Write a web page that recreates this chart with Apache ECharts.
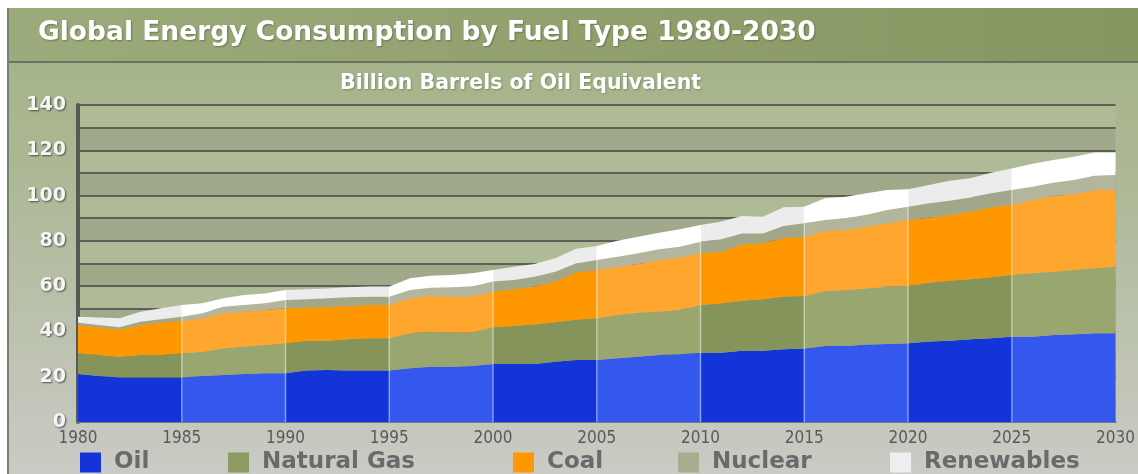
<!DOCTYPE html>
<html><head><meta charset="utf-8">
<script src="https://cdn.jsdelivr.net/npm/echarts@6/dist/echarts.min.js"></script>
<style>html,body{margin:0;padding:0;background:#fff}#c{width:1138px;height:474px}</style>
</head><body><div id="c"></div>
<script>
const years = ['1980','1981','1982','1983','1984','1985','1986','1987','1988','1989',
  '1990','1991','1992','1993','1994','1995','1996','1997','1998','1999',
  '2000','2001','2002','2003','2004','2005','2006','2007','2008','2009',
  '2010','2011','2012','2013','2014','2015','2016','2017','2018','2019',
  '2020','2021','2022','2023','2024','2025','2026','2027','2028','2029','2030'];
const oil = [21.2,20.3,19.7,19.7,19.7,19.7,20.3,20.8,21.2,21.5,
  21.5,22.7,23.0,22.7,22.7,22.7,23.7,24.4,24.4,24.7,
  25.6,25.6,25.6,26.6,27.4,27.4,28.1,28.8,29.6,29.9,
  30.6,30.6,31.5,31.5,32.1,32.5,33.6,33.6,34.2,34.5,
  34.8,35.5,35.9,36.5,37.0,37.7,37.7,38.4,38.7,39.2,39.2];
const naturalGas = [9.1,9.3,9.1,9.9,9.9,10.6,10.7,11.7,12.1,12.5,
  13.3,13.2,12.9,13.8,14.3,14.3,15.5,15.5,15.1,14.8,
  16.2,16.8,17.5,17.4,17.8,18.4,19.2,19.5,19.1,19.6,
  21.1,21.8,22.1,22.7,23.3,23.1,24.3,24.7,24.8,25.3,
  25.3,26.0,26.5,26.5,26.9,27.2,28.0,28.0,28.4,28.7,29.4];
const coal = [12.5,12.2,12.1,13.2,14.3,14.3,14.8,15.5,15.4,15.5,
  15.4,14.7,15.0,14.7,14.7,14.7,15.4,15.7,15.9,15.9,
  15.8,16.2,16.7,18.0,20.8,21.3,21.3,21.5,22.9,23.1,
  22.8,22.8,24.9,24.7,25.7,26.2,26.6,26.5,27.3,28.0,
  29.1,28.7,29.0,29.9,30.9,30.9,32.3,33.4,33.6,34.6,33.9];
const nuclear = [1.0,1.0,0.9,1.5,1.5,1.9,2.2,2.9,3.0,2.9,
  3.7,3.6,3.7,3.9,3.6,3.6,3.7,3.7,4.1,4.4,
  4.4,4.1,4.4,4.4,4.0,4.5,4.4,4.7,4.7,4.8,
  5.1,5.5,4.8,4.4,5.5,6.0,4.7,5.2,5.2,5.8,
  5.9,6.4,6.3,6.3,6.2,6.7,5.9,5.9,6.2,6.2,6.6];
const renewables = [2.7,3.3,4.0,4.4,4.8,5.2,4.4,3.7,4.4,4.4,
  4.4,4.4,4.4,4.4,4.5,4.5,5.2,5.3,5.4,5.9,
  5.1,5.9,5.6,5.9,6.5,6.1,7.1,7.3,7.3,7.7,
  7.4,7.8,7.7,7.4,8.2,7.3,9.6,9.5,9.5,8.9,
  7.7,8.1,8.9,8.4,9.1,9.5,10.1,10.0,10.3,10.3,9.9];
const seriesNames = ['Oil','Natural Gas','Coal','Nuclear','Renewables'];
const yTicks = [0,20,40,60,80,100,120,140];
const titleText = 'Global Energy Consumption by Fuel Type 1980-2030';
const subtitleText = 'Billion Barrels of Oil Equivalent';

const allData = [oil, naturalGas, coal, nuclear, renewables];
const darkCols = ['#1234d8','#84945a','#ff9800','#a2a789','#ececec'];
const lightCols = ['#3458ee','#99a670','#ffa62f','#b3b69d','#ffffff'];
const legendCols = ['#1234d8','#8c9b62','#ff9800','#a9ad8e','#eeeeee'];
const legendLeft = [75, 223, 508, 673, 885];

const chart = echarts.init(document.getElementById('c'));

const lineSeries = seriesNames.map((n, i) => ({
  name: n, type: 'line', stack: 'total', data: allData[i],
  symbol: 'none', color: legendCols[i],
  lineStyle: {width: 0, opacity: 0},
  areaStyle: {opacity: 1},
  emphasis: {disabled: true}, z: 2
}));
const totals = years.map((y, k) => allData.reduce((s, a) => s + a[k], 0));
const sepData = totals.map((t, k) => (k % 5 === 0 && k > 0 && k < years.length - 1) ? t : '-');

const visualMaps = seriesNames.map((n, i) => {
  const pieces = [];
  for (let k = 0; k < 10; k++) {
    const p = {gte: k * 5, color: (k % 2 === 0) ? darkCols[i] : lightCols[i]};
    if (k === 9) p.lte = 50; else p.lt = k * 5 + 5;
    pieces.push(p);
  }
  return {type: 'piecewise', show: false, seriesIndex: i, dimension: 0, pieces};
});

const legends = seriesNames.map((n, i) => ({
  data: [n], left: legendLeft[i], top: 446, icon: 'rect',
  itemWidth: 21, itemHeight: 20, itemGap: 10, selectedMode: false,
  textStyle: {color: '#6a6a6a', fontSize: 23, fontWeight: 'bold', fontFamily: 'DejaVu Sans', padding: [0,0,0,8]}
}));

chart.setOption({
  animation: false,
  backgroundColor: '#ffffff',
  graphic: [
    {type: 'rect', z: -10, shape: {x: 7, y: 8, width: 1131, height: 466},
     style: {fill: new echarts.graphic.LinearGradient(0, 0, 0, 1, [
       {offset: 0, color: '#a2b185'}, {offset: 0.35, color: '#acb894'},
       {offset: 0.7, color: '#bcc2af'}, {offset: 1, color: '#cacbc5'}])}},
    {type: 'rect', z: -9, shape: {x: 7, y: 8, width: 1131, height: 54},
     style: {fill: new echarts.graphic.LinearGradient(0, 0, 1, 0, [
       {offset: 0, color: '#9cab7b'}, {offset: 1, color: '#869660'}])}},
    {type: 'line', z: -8, shape: {x1: 7, y1: 62, x2: 1138, y2: 62}, style: {stroke: '#6b7164', lineWidth: 2}},
    {type: 'line', z: -8, shape: {x1: 8, y1: 8, x2: 8, y2: 474}, style: {stroke: '#7a7f74', lineWidth: 2}}
  ],
  title: [
    {text: titleText, left: 33, top: 15,
     textStyle: {color: '#ffffff', fontSize: 26.5, fontWeight: 'bold', fontFamily: 'DejaVu Sans',
       textShadowColor: 'rgba(60,70,40,0.5)', textShadowBlur: 2, textShadowOffsetX: 1, textShadowOffsetY: 1}},
    {text: subtitleText, left: 335, top: 68,
     textStyle: {color: '#ffffff', fontSize: 20.5, fontWeight: 'bold', fontFamily: 'DejaVu Sans',
       textShadowColor: 'rgba(60,70,40,0.4)', textShadowBlur: 2, textShadowOffsetX: 1, textShadowOffsetY: 1}}
  ],
  legend: legends,
  visualMap: visualMaps,
  grid: {left: 78, right: 21, top: 105, bottom: 52, containLabel: false},
  xAxis: {
    type: 'category', data: years, boundaryGap: false,
    axisLine: {show: true, lineStyle: {color: '#7a7a7a', width: 2}},
    axisTick: {show: false},
    axisLabel: {interval: 4, color: '#5a5a5a', fontSize: 17, fontFamily: 'DejaVu Sans Condensed', margin: 8},
    splitLine: {show: false}
  },
  yAxis: {
    type: 'value', min: 0, max: 140, interval: 10,
    axisLine: {show: true, lineStyle: {color: '#555a52', width: 4}},
    axisTick: {show: false},
    axisLabel: {
      formatter: v => yTicks.indexOf(v) >= 0 ? String(v) : '',
      color: '#f6f6f6', fontSize: 19, fontWeight: 'bold', fontFamily: 'DejaVu Sans', margin: 12,
      textShadowColor: 'rgba(50,50,50,0.8)', textShadowBlur: 2, textShadowOffsetX: 1, textShadowOffsetY: 1
    },
    splitLine: {show: true, lineStyle: {color: '#5c6056', width: 2}},
    splitArea: {show: true, areaStyle: {color: ['#a0a98a', '#aebb96']}}
  },
  series: lineSeries.concat([{
    name: 'sep', type: 'bar', data: sepData, barWidth: 1.5, barGap: '-100%',
    itemStyle: {color: 'rgba(255,255,255,0.45)'}, emphasis: {disabled: true}, z: 3
  }])
});
</script></body></html>
